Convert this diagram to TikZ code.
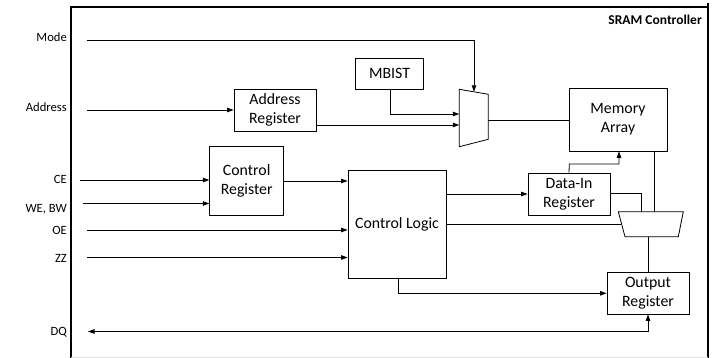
\documentclass[tikz,border=0pt]{standalone}
\usepackage{fontspec}
\setmainfont{Carlito}
\usetikzlibrary{arrows.meta}
\begin{document}
\begin{tikzpicture}[x=1pt,y=-1pt,
  box/.style={draw,line width=0.8pt,inner sep=0pt,align=center,font=\fontsize{15.8}{19}\selectfont},
  sig/.style={font=\fontsize{12.6}{14}\selectfont,anchor=east,inner sep=0pt},
  wire/.style={line width=0.8pt},
  arr/.style={wire,-{Triangle[length=6.5pt,width=4.5pt]}},
  barr/.style={wire,{Triangle[length=6.5pt,width=4.5pt]}-{Triangle[length=6.5pt,width=4.5pt]}},
  frame/.style={line width=1.6pt}]
\useasboundingbox (0,0) rectangle (717,358);

% enclosing controller frame
\draw[frame] (71,358) -- (71,7) -- (708,7);
\draw[frame] (708,3) -- (708,358);
\draw[gray!25,line width=0.8pt] (71,357) -- (708,357);
\node[anchor=east,inner sep=0pt,font=\fontsize{13.5}{15}\selectfont\bfseries] (title) at (702,20) {SRAM Controller};

% external signal names
\node[sig] (lmode) at (67,37) {Mode};
\node[sig] (laddr) at (67,107) {Address};
\node[sig] (lce)   at (67,179) {CE};
\node[sig] (lwe)   at (67,209) {WE, BW};
\node[sig] (loe)   at (67,230) {OE};
\node[sig] (lzz)   at (67,258) {ZZ};
\node[sig] (ldq)   at (67,332) {DQ};

% free ends of the input wires
\coordinate (imode) at (87,40.5);
\coordinate (iaddr) at (87,110);
\coordinate (ice)   at (80,180);
\coordinate (iwe)   at (83,203.5);
\coordinate (ioe)   at (87,230);
\coordinate (izz)   at (87,257.5);
\coordinate (idq)   at (88,331.5);

% functional blocks
\node[box,minimum width=82pt,minimum height=42pt] (addr) at (275,110) {Address\\Register};
\node[box,minimum width=67.6pt,minimum height=31pt] (mbist) at (389.5,73.8) {MBIST};
\node[box,minimum width=98pt,minimum height=63pt] (mem) at (618,119.5) {Memory\\Array};
\node[box,minimum width=74pt,minimum height=69pt] (creg) at (246.7,180.5) {Control\\Register};
\node[box,minimum width=98pt,minimum height=108pt] (clog) at (397,224) {Control Logic};
\node[box,minimum width=82pt,minimum height=42pt] (din) at (569,194) {Data-In\\Register};
\node[box,minimum width=82pt,minimum height=42pt] (oreg) at (648,293) {Output\\Register};

% address multiplexer
\coordinate (m1a) at (459.3,89.3);
\coordinate (m1b) at (488.3,94.3);
\coordinate (m1c) at (488.3,139.3);
\coordinate (m1d) at (459.3,146.7);
\draw[wire] (m1a) -- (m1b) -- (m1c) -- (m1d) -- cycle;
\coordinate (m1top) at (474,91.8);
\coordinate (m1in1) at (459.3,114);
\coordinate (m1in2) at (459.3,125);
\coordinate (m1out) at (488.3,120);

% data multiplexer
\coordinate (m2a) at (618.3,211.7);
\coordinate (m2b) at (683.3,211.7);
\coordinate (m2c) at (678.3,236.7);
\coordinate (m2d) at (625,236.7);
\draw[wire] (m2a) -- (m2b) -- (m2c) -- (m2d) -- cycle;
\coordinate (m2sel) at (621.2,224.3);

% connections
\draw[arr] (imode) -| (m1top);
\draw[arr] (iaddr) -- (addr.west);
\draw[arr] (mbist.south -| 390,0) |- (m1in1);
\draw[arr] (addr.east |- m1in2) -- (m1in2);
\draw[wire] (m1out) -- (mem.west |- m1out);

\draw[arr] (ice) -- (creg.west |- ice);
\draw[arr] (iwe) -- (creg.west |- iwe);
\draw[arr] (creg.east |- 0,181) -- (clog.west |- 0,181);
\draw[arr] (ioe) -- (clog.west |- ioe);
\draw[arr] (izz) -- (clog.west |- izz);

\draw[arr] (clog.east |- din.west) -- (din.west);
\draw[arr] (din.north) -- (569.3,164) -| (mem.south -| 619,0);
\draw[wire] (din.east |- 0,193.3) -| (641.7,211.7);
\draw[wire] (mem.south -| 654,0) -- (654,211.7);
\draw[wire] (clog.east |- m2sel) -- (m2sel);
\draw[wire] (648.7,236.7) -- (oreg.north -| 648.7,0);
\draw[arr] (clog.south -| 398,0) |- (oreg.west |- 0,293.3);
\draw[barr] (oreg.south -| 648,0) |- (idq);
\end{tikzpicture}
\end{document}
